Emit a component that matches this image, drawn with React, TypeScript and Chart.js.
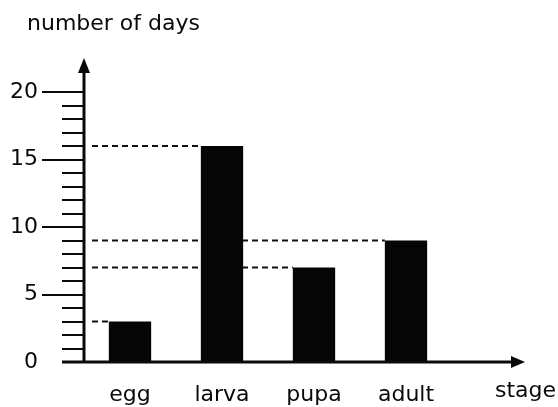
import React, { useEffect, useRef } from 'react';
import { Chart, registerables } from 'chart.js';

Chart.register(...registerables);

// ---- data ----
const stages = ['egg', 'larva', 'pupa', 'adult'];
const days = [3, 16, 7, 9];
const yTickValues = [0, 5, 10, 15, 20];
const yMin = 0;
const yMax = 20;
const yTitle = 'number of days';
const xTitle = 'stage';

const FONT = '"DejaVu Sans", "Liberation Sans", Arial, sans-serif';
const INK = '#0a0a0a';

const sketchPlugin = {
  id: 'sketchAxes',
  beforeDatasetsDraw(chart: any) {
    const { ctx, chartArea: a } = chart;
    const meta = chart.getDatasetMeta(0);
    ctx.save();
    ctx.setLineDash([6, 4]);
    ctx.lineWidth = 2;
    ctx.strokeStyle = '#111111';
    meta.data.forEach((bar: any) => {
      const p = bar.getProps(['x', 'y', 'width'], true);
      ctx.beginPath();
      ctx.moveTo(a.left + 8, p.y);
      ctx.lineTo(p.x - p.width / 2, p.y);
      ctx.stroke();
    });
    ctx.restore();
  },
  afterDraw(chart: any) {
    const { ctx, chartArea: a, scales } = chart;
    const ys = scales.y;
    ctx.save();
    ctx.strokeStyle = INK;
    ctx.fillStyle = INK;
    ctx.setLineDash([]);

    // y ticks (minor every unit, major every 5)
    ctx.lineWidth = 2;
    for (let v = yMin + 1; v <= yMax; v++) {
      const py = Math.round(ys.getPixelForValue(v));
      const len = v % 5 === 0 ? 42 : 22;
      ctx.beginPath();
      ctx.moveTo(a.left - len, py);
      ctx.lineTo(a.left, py);
      ctx.stroke();
    }

    // y axis with arrow
    const yTip = a.top - 34;
    ctx.lineWidth = 3;
    ctx.beginPath();
    ctx.moveTo(a.left, a.bottom + 1);
    ctx.lineTo(a.left, yTip + 8);
    ctx.stroke();
    ctx.beginPath();
    ctx.moveTo(a.left, yTip);
    ctx.lineTo(a.left - 6, yTip + 15);
    ctx.lineTo(a.left + 6, yTip + 15);
    ctx.closePath();
    ctx.fill();

    // x axis with arrow
    const xTip = a.right + 73;
    ctx.beginPath();
    ctx.moveTo(a.left - 22, a.bottom);
    ctx.lineTo(xTip - 8, a.bottom);
    ctx.stroke();
    ctx.beginPath();
    ctx.moveTo(xTip, a.bottom);
    ctx.lineTo(xTip - 14, a.bottom - 6);
    ctx.lineTo(xTip - 14, a.bottom + 6);
    ctx.closePath();
    ctx.fill();

    // titles
    ctx.font = `22px ${FONT}`;
    ctx.textBaseline = 'alphabetic';
    ctx.textAlign = 'left';
    ctx.fillText(yTitle, a.left - 57, a.top - 62);
    ctx.fillText(xTitle, xTip - 30, a.bottom + 35);
    ctx.restore();
  },
};

export default function App() {
  const ref = useRef<HTMLCanvasElement | null>(null);

  useEffect(() => {
    if (!ref.current) return;
    const chart = new Chart(ref.current, {
      type: 'bar',
      data: {
        labels: stages,
        datasets: [
          {
            data: days,
            backgroundColor: '#050505',
            borderWidth: 0,
            categoryPercentage: 1,
            barPercentage: 0.46,
          },
        ],
      },
      options: {
        responsive: true,
        maintainAspectRatio: false,
        animation: false,
        layout: { padding: { top: 92, right: 106, bottom: 0, left: 0 } },
        plugins: {
          legend: { display: false },
          tooltip: { enabled: false },
          title: { display: false },
        },
        scales: {
          x: {
            type: 'category',
            offset: true,
            grid: { display: false, drawTicks: false },
            border: { display: false },
            ticks: {
              color: INK,
              font: { family: FONT, size: 22 },
              padding: 20,
              maxRotation: 0,
              autoSkip: false,
            },
            afterFit: (s: any) => {
              s.height = 45;
              s.paddingLeft = 0;
              s.paddingRight = 0;
            },
          },
          y: {
            min: yMin,
            max: yMax,
            grid: { display: false, drawTicks: false },
            border: { display: false },
            ticks: {
              color: INK,
              font: { family: FONT, size: 22 },
              padding: 46,
            },
            afterBuildTicks: (s: any) => {
              s.ticks = yTickValues.map((v) => ({ value: v }));
            },
            afterFit: (s: any) => {
              s.width = 84;
              s.paddingTop = 0;
              s.paddingBottom = 0;
            },
          },
        },
      },
      plugins: [sketchPlugin],
    });
    return () => chart.destroy();
  }, []);

  return (
    <div style={{ position: 'fixed', left: 0, top: 0, width: 558, height: 407, background: '#fff' }}>
      <canvas ref={ref} />
    </div>
  );
}
